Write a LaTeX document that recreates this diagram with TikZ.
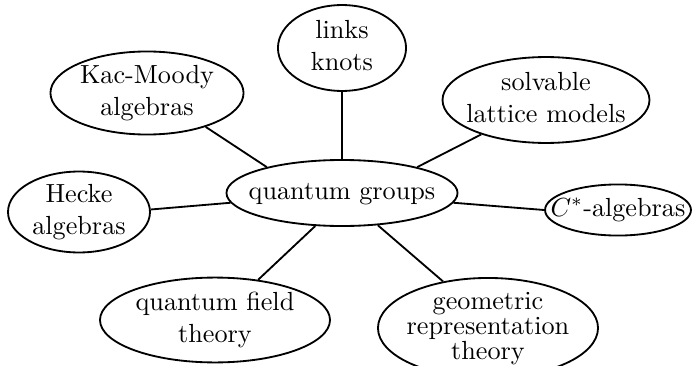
\documentclass[tikz,border=0pt]{standalone}
\usetikzlibrary{shapes.geometric}
\newcommand{\lbl}[1]{\makebox[0pt]{\begin{tabular}{@{}c@{}}#1\end{tabular}}}
\tikzset{
  topic/.style={draw, ellipse, line width=0.7pt, inner xsep=0pt, inner ysep=-7pt},
  link/.style={line width=0.7pt}
}
\begin{document}
\begin{tikzpicture}[x=0.3817pt,y=-0.3817pt]
\useasboundingbox (0,0) rectangle (693,366);
\node[topic, minimum width=88.2pt, minimum height=25.2pt] (qg) at (342,193) {\lbl{quantum groups}};
\node[topic, minimum width=48.9pt, minimum height=32.8pt] (links) at (342,48) {\lbl{links\\knots}};
\node[topic, minimum width=73.7pt, minimum height=31.7pt] (km) at (147,93) {\lbl{Kac-Moody\\algebras}};
\node[topic, minimum width=79pt, minimum height=32.8pt] (sol) at (546,100) {\lbl{solvable\\lattice models}};
\node[topic, minimum width=54.2pt, minimum height=30.9pt] (hecke) at (79,212) {\lbl{Hecke\\algebras}};
\node[topic, minimum width=55.7pt, minimum height=19.5pt] (cstar) at (618,210) {\lbl{$C^*$-algebras}};
\node[topic, minimum width=87.8pt, minimum height=32.4pt] (qft) at (215,320) {\lbl{quantum field\\theory}};
\node[topic, minimum width=84pt, minimum height=38.2pt] (geo) at (488,328) {\lbl{geometric\\[-2.5pt]representation\\[-2.5pt]theory}};
% spokes
\draw[link] (qg.161) -- (km.-30);
\draw[link] (qg.north) -- (links.south);
\draw[link] (qg.19) -- (sol.-152);
\draw[link] (qg.185) -- (hecke.2);
\draw[link] (qg.-5) -- (cstar.west);
\draw[link] (qg.231) -- (qft.43);
\draw[link] (qg.-42) -- (geo.134);
\end{tikzpicture}
\end{document}
